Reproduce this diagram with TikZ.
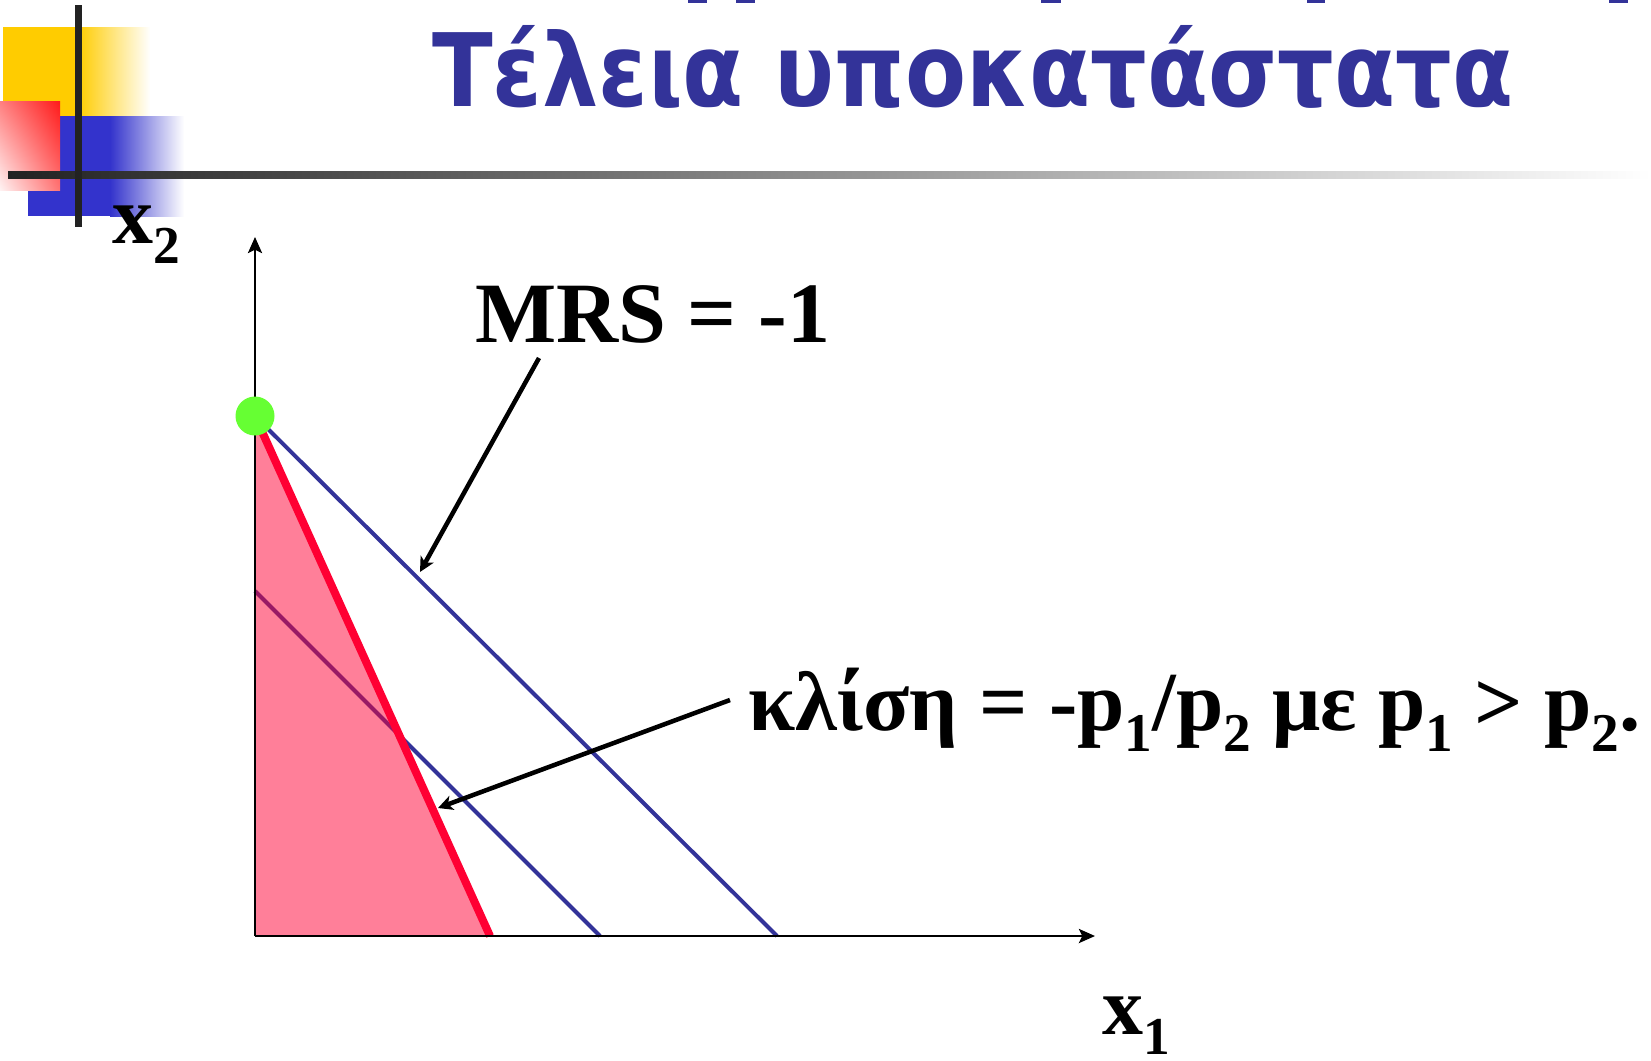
\documentclass[tikz,border=0pt]{standalone}
\usepackage{fontspec}
\usepackage{graphicx}
\usetikzlibrary{arrows.meta,shadings}
\setmainfont{Liberation Serif}
\newfontfamily\ttlfont{DejaVu Sans}
\definecolor{ttlblue}{HTML}{333399}
\definecolor{decoyellow}{HTML}{FFCC00}
\definecolor{decoblue}{HTML}{3333CC}
\definecolor{decored}{HTML}{FF1A1A}
\definecolor{decodark}{HTML}{222222}
\definecolor{lineblue}{HTML}{333399}
\definecolor{linered}{HTML}{FF0033}
\definecolor{dotgreen}{HTML}{66FF33}
\newcommand\lowsub[1]{\raisebox{-0.25em}{\scalebox{0.65}{#1}}}
\begin{document}
\begin{tikzpicture}[x=0.75pt,y=-0.75pt,
  axisline/.style={line width=2pt,-{Stealth[length=12pt,width=10.5pt,inset=2.5pt]}},
  budget/.style={line width=3pt,lineblue},
  callout/.style={line width=3.4pt,-{Stealth[length=11pt,width=11pt,inset=3pt]}},
  biglabel/.style={inner sep=0pt,font=\fontsize{63}{70}\selectfont\bfseries},
  axislabel/.style={inner sep=0pt,font=\fontsize{61.5}{70}\selectfont\bfseries}]
\useasboundingbox (0,0) rectangle (1651,1060);
% cut-off fragments of a previous title line
\foreach \a/\b in {688/707,736/755,1041/1061,1307/1325,1609/1628}
  \fill[ttlblue] (\a,0) rectangle (\b,3);
% decoration
\fill[decoyellow] (3,27) rectangle (78,116);
\shade[left color=decoyellow,right color=white] (78,27) rectangle (150,116);
\fill[decoblue] (28,116) rectangle (110,216);
\shade[left color=decoblue,right color=white] (110,116) rectangle (184,216);
\shade[upper right=decored,lower left=white!95!red,upper left=red!50!white,lower right=red!55!white] (0,101) rectangle (60,190);
\shade[left color=decodark,middle color=black!40,right color=white] (8,171) rectangle (1651,178);
\fill[decodark] (75,5) rectangle (82,227);
% title
\node[anchor=base west,inner sep=0pt,text=ttlblue] (title) at (432,106)
  {\resizebox{810.75pt}{\height}{\fontsize{76}{80}\ttlfont\bfseries Τέλεια υποκατάστατα}};
% axes
\coordinate (O) at (255,936);
\coordinate (ytip) at (255,237);
\coordinate (xtip) at (1095,936);
\coordinate (redend) at (490,936);
\coordinate (b1a) at (255,416);
\coordinate (b1b) at (777,936);
\coordinate (b2a) at (255,591);
\coordinate (b2b) at (600,936);
\draw[budget] (b2a) -- (b2b);
\draw[budget] (b1a) -- (b1b);
\fill[linered,opacity=0.5] (b1a) -- (redend) -- (O) -- cycle;
\draw[line width=6pt,linered] (b1a) -- (redend);
\draw[axisline] (O) -- (ytip);
\draw[axisline] (O) -- (xtip);
\node[circle,fill=dotgreen,inner sep=0pt,minimum size=29.25pt] (corner) at (b1a) {};
% labels
\node[axislabel,anchor=base west] (xtwo) at (112,243) {x\lowsub{2}};
\node[axislabel,anchor=base west] (xone) at (1102,1034) {x\lowsub{1}};
\node[biglabel,font=\fontsize{64.5}{70}\selectfont\bfseries,anchor=base west] (mrs) at (475,342) {MRS = -1};
\node[biglabel,anchor=base west] (slope) at (748,730)
  {\resizebox{669pt}{\height}{κλίση = -p\lowsub{1}/p\lowsub{2} με p\lowsub{1} > p\lowsub{2}.}};
% callouts
\coordinate (m1) at (539,358);
\coordinate (m2) at (420,572);
\coordinate (s1) at (730,700);
\coordinate (s2) at (438,808);
\draw[callout] (m1) -- (m2);
\draw[callout] (s1) -- (s2);
\end{tikzpicture}
\end{document}
